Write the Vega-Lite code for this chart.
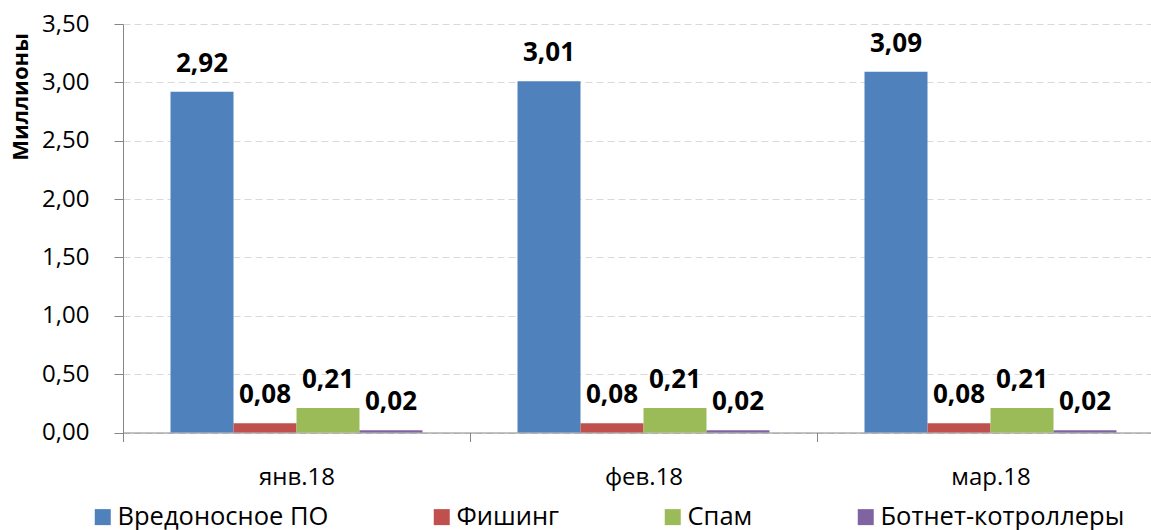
{
  "$schema": "https://vega.github.io/schema/vega-lite/v6.json",
  "width": 1028,
  "height": 408.5,
  "autosize": {"type": "none"},
  "padding": {"left": 123, "top": 24, "right": 0, "bottom": 97.5},
  "config": {
    "locale": {"number": {"decimal": ",", "thousands": " ", "grouping": [3], "currency": ["", ""]}},
    "view": {"stroke": null},
    "font": "Open Sans"
  },
  "data": {
    "values": [
      {"month": "янв.18", "series": "Вредоносное ПО", "value": 2.92},
      {"month": "янв.18", "series": "Фишинг", "value": 0.08},
      {"month": "янв.18", "series": "Спам", "value": 0.21},
      {"month": "янв.18", "series": "Ботнет-котроллеры", "value": 0.02},
      {"month": "фев.18", "series": "Вредоносное ПО", "value": 3.01},
      {"month": "фев.18", "series": "Фишинг", "value": 0.08},
      {"month": "фев.18", "series": "Спам", "value": 0.21},
      {"month": "фев.18", "series": "Ботнет-котроллеры", "value": 0.02},
      {"month": "мар.18", "series": "Вредоносное ПО", "value": 3.09},
      {"month": "мар.18", "series": "Фишинг", "value": 0.08},
      {"month": "мар.18", "series": "Спам", "value": 0.21},
      {"month": "мар.18", "series": "Ботнет-котроллеры", "value": 0.02}
    ]
  },
  "encoding": {
    "x": {
      "field": "month", "type": "nominal", "sort": null,
      "scale": {"range": [0, 1041], "paddingInner": 0, "paddingOuter": 0},
      "axis": {
        "title": null, "tickBand": "extent", "labelAngle": 0, "labelFontSize": 24, "labelColor": "#000000",
        "domainColor": "#868686", "tickColor": "#868686", "tickSize": 9, "labelPadding": 24, "grid": false
      }
    },
    "xOffset": {"field": "series", "type": "nominal", "sort": null, "scale": {"paddingInner": 0, "paddingOuter": 0.754}},
    "y": {
      "field": "value", "type": "quantitative",
      "scale": {"domain": [0, 3.5], "nice": false},
      "axis": {
        "title": "Миллионы", "values": [0, 0.5, 1, 1.5, 2, 2.5, 3, 3.5], "format": ".2f",
        "grid": true, "gridDash": [7, 4], "gridColor": "#D9D9D9",
        "domainColor": "#868686", "tickColor": "#868686", "tickSize": 9, "labelPadding": 25,
        "labelFontSize": 24, "labelColor": "#000000",
        "titleFontSize": 22, "titleFontWeight": "bold", "titleColor": "#000000",
        "titleAngle": -90, "titleAlign": "center", "titleBaseline": "middle", "titleX": -103, "titleY": 72.5
      }
    }
  },
  "layer": [
    {
      "mark": {"type": "bar"},
      "encoding": {
        "color": {
          "field": "series", "type": "nominal", "sort": null,
          "scale": {
            "domain": ["Вредоносное ПО", "Фишинг", "Спам", "Ботнет-котроллеры"],
            "range": ["#4F81BD", "#C0504D", "#9BBB59", "#8064A2"]
          },
          "legend": {
            "orient": "none", "legendX": -33, "legendY": 480, "direction": "horizontal", "title": null,
            "symbolType": "square", "symbolSize": 256, "symbolStrokeWidth": 0, "symbolOpacity": 1,
            "labelFontSize": 25.5, "labelColor": "#000000", "labelOffset": 2, "labelLimit": 500,
            "columnPadding": 100, "padding": 0
          }
        }
      }
    },
    {
      "mark": {"type": "text", "dy": -20, "baseline": "alphabetic", "fontSize": 26, "fontWeight": "bold", "color": "#000000"},
      "encoding": {"text": {"field": "value", "type": "quantitative", "format": ".2f"}}
    }
  ]
}
